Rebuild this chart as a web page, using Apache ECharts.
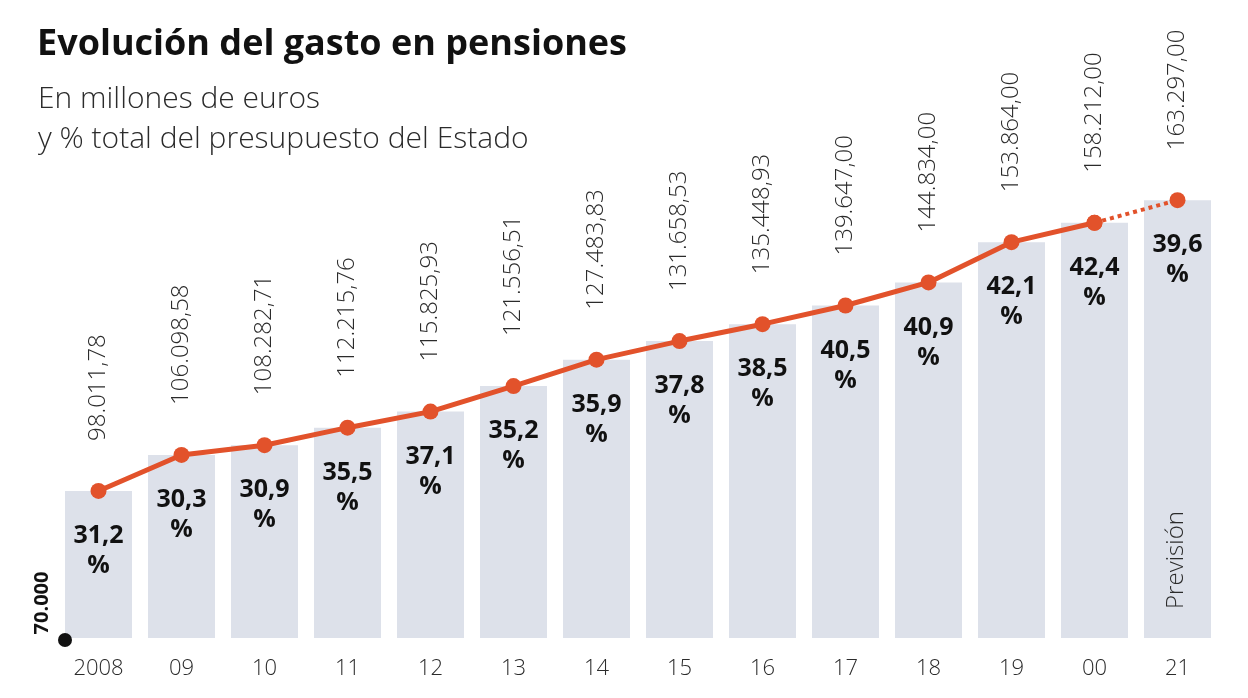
<!DOCTYPE html>
<html>
<head>
<meta charset="utf-8">
<script src="https://cdn.jsdelivr.net/npm/echarts@6/dist/echarts.min.js"></script>
<style>
html,body{margin:0;padding:0;background:#fff;}
#c{width:1248px;height:698px;}
</style>
</head>
<body>
<div id="c"></div>
<script>
var categories = ['2008','09','10','11','12','13','14','15','16','17','18','19','00','21'];
var gasto = [98011.78,106098.58,108282.71,112215.76,115825.93,121556.51,127483.83,131658.53,135448.93,139647.00,144834.00,153864.00,158212.00,163297.00];
var porcentaje = [31.2,30.3,30.9,35.5,37.1,35.2,35.9,37.8,38.5,40.5,40.9,42.1,42.4,39.6];
var baseLabel = '70.000';

var FONT = "'Open Sans', 'Noto Sans', sans-serif";
var RED = '#e2522b';
var TXT = '#2b2b2b';

function fmtES(v){
  var s = v.toFixed(2).split('.');
  var ent = s[0].replace(/\B(?=(\d{3})+(?!\d))/g, '.');
  return ent + ',' + s[1];
}
var n = gasto.length;
var solid = gasto.map(function(v,i){ return i < n-1 ? v : null; });
var dotted = gasto.map(function(v,i){ return i >= n-2 ? v : null; });

var chart = echarts.init(document.getElementById('c'));
chart.setOption({
  animation:false,
  grid:{left:57,right:29,top:148,bottom:60},
  xAxis:{
    type:'category', data:categories, boundaryGap:true,
    axisLine:{show:false}, axisTick:{show:false},
    axisLabel:{fontFamily:FONT,fontSize:22,fontWeight:300,color:TXT,margin:20}
  },
  yAxis:{type:'value',min:65000,max:175000,show:false,splitLine:{show:false}},
  series:[
    {
      type:'bar', data:gasto, barWidth:67,
      itemStyle:{color:'#dde1ea'},
      label:{
        show:true, position:'insideTop', distance:30,
        fontFamily:FONT, fontSize:25, fontWeight:'bold', color:'#111', lineHeight:30,
        formatter:function(p){ return porcentaje[p.dataIndex].toFixed(1).replace('.',',') + '\n%'; }
      },
      z:1
    },
    {
      type:'line', data:dotted, symbol:'circle', symbolSize:16,
      lineStyle:{color:RED,width:4,type:[4,4]},
      itemStyle:{color:RED},
      label:{
        show:true, position:'top', rotate:90, align:'left', verticalAlign:'middle', distance:42,
        fontFamily:FONT, fontSize:24, fontWeight:300, color:TXT,
        formatter:function(p){ return p.dataIndex === n-1 ? fmtES(p.value) : ''; }
      },
      z:3
    },
    {
      type:'line', data:solid, symbol:'circle', symbolSize:16,
      lineStyle:{color:RED,width:5},
      itemStyle:{color:RED},
      label:{
        show:true, position:'top', rotate:90, align:'left', verticalAlign:'middle', distance:42,
        fontFamily:FONT, fontSize:24, fontWeight:300, color:TXT,
        formatter:function(p){ return fmtES(p.value); }
      },
      z:4
    }
  ],
  graphic:[
    {type:'text', x:37, y:45, style:{text:'Evolución del gasto en pensiones', fontFamily:FONT, fontSize:36, fontWeight:'bold', fill:'#111', textVerticalAlign:'middle'}},
    {type:'text', x:38, y:99, style:{text:'En millones de euros', fontFamily:FONT, fontSize:30, fontWeight:300, fill:TXT, textVerticalAlign:'middle'}},
    {type:'text', x:38, y:139, style:{text:'y % total del presupuesto del Estado', fontFamily:FONT, fontSize:30, fontWeight:300, fill:TXT, textVerticalAlign:'middle'}},
    {type:'text', x:42, y:603, rotation:Math.PI/2, z:20, style:{text:baseLabel, fontFamily:FONT, fontSize:20, fontWeight:'bold', fill:'#111', textAlign:'center', textVerticalAlign:'middle'}},
    {type:'circle', z:20, shape:{cx:65, cy:640, r:7}, style:{fill:'#111'}},
    {type:'text', x:1176, y:560, rotation:Math.PI/2, z:10, style:{text:'Previsión', fontFamily:FONT, fontSize:24, fontWeight:300, fill:TXT, textAlign:'center', textVerticalAlign:'middle'}}
  ]
});
</script>
</body>
</html>
